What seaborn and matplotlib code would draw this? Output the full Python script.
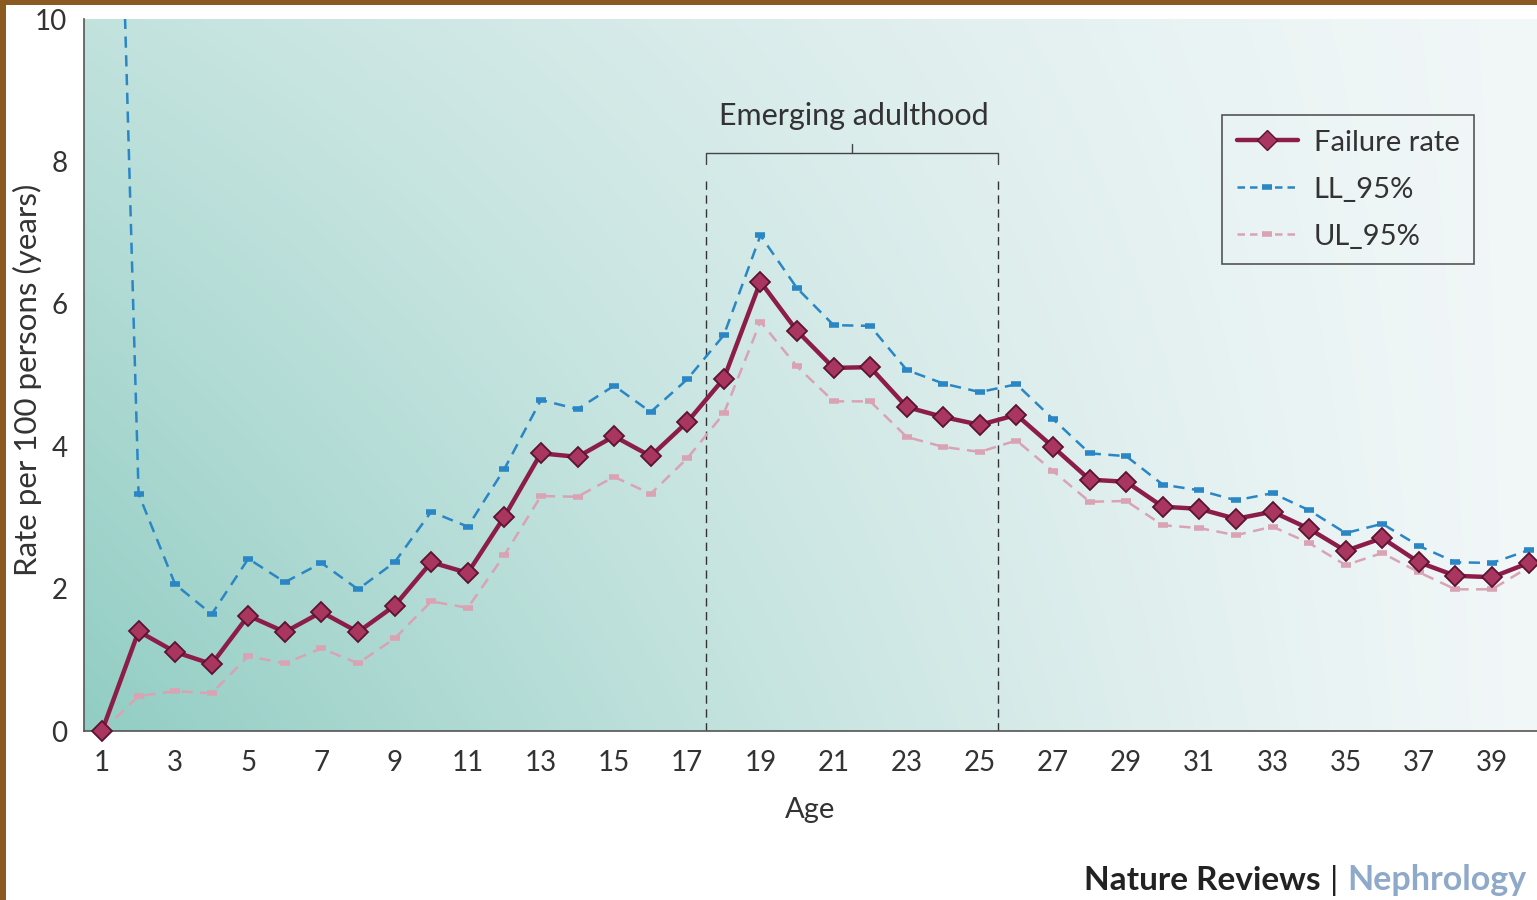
import numpy as np
import pandas as pd
import matplotlib
matplotlib.use("Agg")
import matplotlib.pyplot as plt
from matplotlib.lines import Line2D
from matplotlib.patches import Rectangle
import seaborn as sns

# Age in years and rates per 100 persons
ages = list(range(1, 41))
failure_rate = [0.00, 1.40, 1.11, 0.94, 1.62, 1.39, 1.67, 1.39, 1.76, 2.37,
                2.22, 3.01, 3.90, 3.85, 4.14, 3.86, 4.34, 4.95, 6.31, 5.62,
                5.10, 5.11, 4.55, 4.41, 4.30, 4.44, 3.99, 3.53, 3.50, 3.15,
                3.12, 2.98, 3.08, 2.84, 2.53, 2.71, 2.37, 2.18, 2.16, 2.36]
ll_95 = [21.4, 3.33, 2.06, 1.64, 2.42, 2.09, 2.36, 1.99, 2.37, 3.08,
         2.87, 3.68, 4.65, 4.52, 4.85, 4.48, 4.94, 5.56, 6.96, 6.22,
         5.70, 5.69, 5.07, 4.88, 4.76, 4.87, 4.38, 3.90, 3.86, 3.46,
         3.38, 3.24, 3.34, 3.10, 2.78, 2.91, 2.60, 2.37, 2.36, 2.54]
ul_95 = [0.00, 0.49, 0.56, 0.53, 1.05, 0.95, 1.16, 0.95, 1.30, 1.82,
         1.73, 2.47, 3.30, 3.29, 3.57, 3.33, 3.83, 4.46, 5.75, 5.12,
         4.63, 4.63, 4.13, 3.99, 3.92, 4.08, 3.65, 3.22, 3.23, 2.89,
         2.85, 2.75, 2.87, 2.64, 2.33, 2.50, 2.23, 1.99, 1.99, 2.30]
y_ticks = [0, 2, 4, 6, 8, 10]
period_label = "Emerging adulthood"
period_start, period_end = 17.5, 25.5

df = pd.DataFrame({"Age": ages, "Failure rate": failure_rate,
                   "LL_95%": ll_95, "UL_95%": ul_95})

sns.set_theme(style="white")
plt.rcParams["font.family"] = ["Lato", "DejaVu Sans"]

fig = plt.figure(figsize=(15.37, 9.0), dpi=100)
fig.patch.set_facecolor("white")
ax = fig.add_axes([84 / 1537, (900 - 731) / 900, 1 - 84 / 1537, (731 - 19) / 900])

xmin, xmax = 0.508, 40.23
ax.set_xlim(xmin, xmax)
ax.set_ylim(0, 10)

# Teal-to-white background gradient inside the plotting area
H, W = 200, 400
u = np.linspace(0, 1, W)[None, :]
v = np.linspace(1, 0, H)[:, None]
s = np.clip((1 - u) ** 1.2 * (1 - 0.5 * v), 0, 1)
light = np.array([242, 247, 248]) / 255
teal = np.array([145, 205, 195]) / 255
grad = light[None, None, :] + s[:, :, None] * (teal - light)[None, None, :]
ax.imshow(grad, extent=[xmin, xmax, 0, 10], aspect="auto", zorder=0,
          interpolation="bicubic")

blue = "#2a86c4"
pink = "#d9a3b4"
wine = "#8c1d48"
dash = (0, (4.5, 3))

sns.lineplot(data=df, x="Age", y="LL_95%", ax=ax, color=blue, lw=1.8,
             marker="_", markersize=7, markeredgewidth=4,
             markeredgecolor=blue, zorder=3, label="_nolegend_")
sns.lineplot(data=df, x="Age", y="UL_95%", ax=ax, color=pink, lw=1.8,
             marker="_", markersize=7, markeredgewidth=4,
             markeredgecolor=pink, zorder=3, label="_nolegend_")
sns.lineplot(data=df, x="Age", y="Failure rate", ax=ax, color=wine, lw=3.2,
             marker="D", markersize=10.5, markerfacecolor="#a8365f",
             markeredgecolor="#5a1330", markeredgewidth=1.3, zorder=5,
             clip_on=False, label="_nolegend_")
# confidence limits are dashed
for ln in ax.lines[:2]:
    ln.set_linestyle(dash)

# Axes styling
for side in ("top", "right"):
    ax.spines[side].set_visible(False)
for side in ("left", "bottom"):
    ax.spines[side].set_color("#555555")
    ax.spines[side].set_linewidth(1.2)
ax.set_yticks(y_ticks)
ax.set_yticklabels([str(t) for t in y_ticks])
ax.set_xticks(ages)
ax.set_xticklabels([str(a) if a % 2 == 1 else "" for a in ages])
ax.tick_params(axis="both", which="major", direction="out", width=1.2,
               color="#555555", labelsize=20, labelcolor="#333333", pad=5)
ax.tick_params(axis="y", length=7)
ax.tick_params(axis="x", length=9)
ax.set_xlabel("Age", fontsize=21, color="#333333", labelpad=15)
ax.set_ylabel("Rate per 100 persons (years)", fontsize=22.5, color="#333333")
ax.yaxis.set_label_coords(-42 / 1453, (731 - 380) / 712)
ax.grid(False)

# Emerging adulthood bracket
ax.vlines([period_start, period_end], 0, 7.72, colors="#333333", lw=1.0,
          linestyles=(0, (6, 4)), zorder=2)
ax.plot([period_start, period_start, period_end, period_end],
        [7.96, 8.12, 8.12, 7.96], color="#444444", lw=1.0, zorder=2)
mid = (period_start + period_end) / 2
ax.plot([mid, mid], [8.12, 8.24], color="#444444", lw=1.0, zorder=2)
ax.text(mid + 0.05, 8.64, period_label, ha="center", va="center", fontsize=22,
        color="#333333")

# Legend
handles = [
    Line2D([], [], color=wine, lw=3.2, marker="D", markersize=10.5,
           markerfacecolor="#a8365f", markeredgecolor="#5a1330"),
    Line2D([], [], color=blue, lw=1.8, linestyle=(0, (3, 2)), marker="_",
           markersize=7, markeredgewidth=4),
    Line2D([], [], color=pink, lw=1.8, linestyle=(0, (3, 2)), marker="_",
           markersize=7, markeredgewidth=4),
]
leg = ax.legend(handles, ["Failure rate", "LL_95%", "UL_95%"],
                loc="upper left", bbox_to_anchor=((1222 - 84) / 1453, (731 - 115) / 712),
                borderaxespad=0, frameon=True, fancybox=False, fontsize=21,
                handlelength=2.1, labelspacing=0.72, borderpad=0.5,
                handletextpad=0.55, framealpha=1.0)
leg.get_frame().set_edgecolor("#555555")
leg.get_frame().set_linewidth(1.2)
leg.get_frame().set_facecolor("none")
for t in leg.get_texts():
    t.set_color("#333333")

# Journal credit line
yc = (900 - 880) / 900
fig.text(1321 / 1537, yc, "Nature Reviews", ha="right", va="center",
         fontsize=24, fontweight="bold", color="#222222")
fig.text(1334 / 1537, yc, "|", ha="center", va="center",
         fontsize=24, color="#222222")
fig.text(1347 / 1537, yc, "Nephrology", ha="left", va="center",
         fontsize=24.5, fontweight="bold", color="#8ea9c9")

# Brown frame edge along top and left
fig.patches.append(Rectangle((0, 0), 6 / 1537, 1, transform=fig.transFigure,
                             facecolor="#8b5a22", edgecolor="none", zorder=10))
fig.patches.append(Rectangle((0, 1 - 5 / 900), 1, 5 / 900, transform=fig.transFigure,
                             facecolor="#8b5a22", edgecolor="none", zorder=10))

fig.savefig("out.png", dpi=100, facecolor=fig.get_facecolor())
